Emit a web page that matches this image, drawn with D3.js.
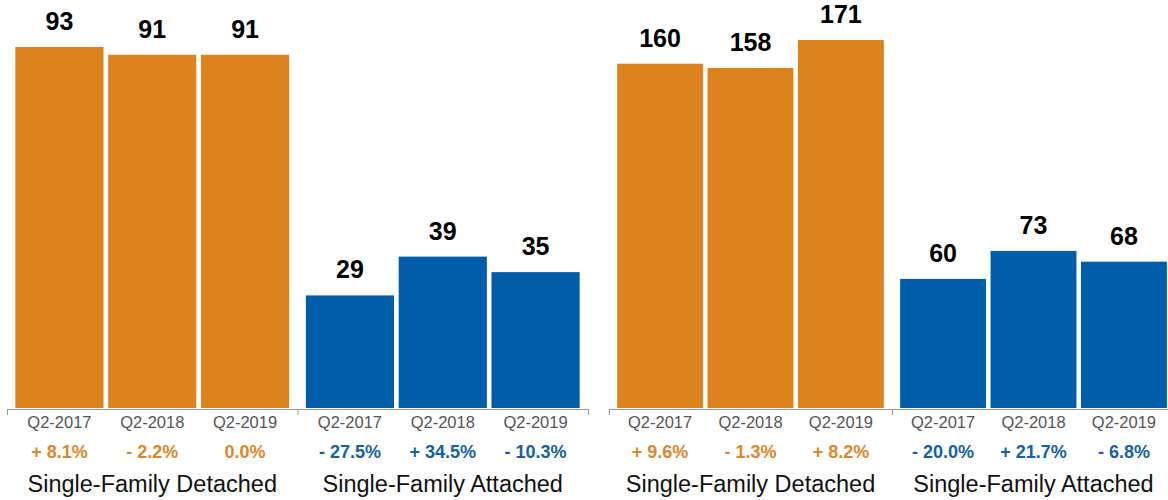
<!DOCTYPE html>
<html>
<head>
<meta charset="utf-8">
<script src="https://cdn.jsdelivr.net/npm/d3@7"></script>
<style>
  body { margin: 0; background: #fff; }
  svg { display: block; font-family: "Liberation Sans", Arial, Helvetica, sans-serif; }
</style>
</head>
<body>
<svg width="1168" height="500"></svg>
<script>
// data
const quarters = ['Q2-2017', 'Q2-2018', 'Q2-2019'];
const groups = ['Single-Family Detached', 'Single-Family Attached'];

const leftDetached = [93, 91, 91];
const leftAttached = [29, 39, 35];
const leftDetachedChange = ['+ 8.1%', '- 2.2%', '0.0%'];
const leftAttachedChange = ['- 27.5%', '+ 34.5%', '- 10.3%'];

const rightDetached = [160, 158, 171];
const rightAttached = [60, 73, 68];
const rightDetachedChange = ['+ 9.6%', '- 1.3%', '+ 8.2%'];
const rightAttachedChange = ['- 20.0%', '+ 21.7%', '- 6.8%'];

const colors = { 'Single-Family Detached': '#dc831e', 'Single-Family Attached': '#005eaa' };
const textColors = { 'Single-Family Detached': '#df8626', 'Single-Family Attached': '#1261aa' };

let svg = d3.select('svg');
let baseY = 408;

function drawPanel(x0, x1, yMax, detached, attached, detChange, attChange) {
    const g = svg.append('g');
    const values = [detached, attached];
    const changes = [detChange, attChange];

    const xGroup = d3.scaleBand().domain(groups).range([x0, x1]).padding(0);
    const xInner = d3.scaleBand().domain(quarters)
                    .range([0, xGroup.bandwidth()])
                    .paddingInner(0.05)
                    .paddingOuter(0.09);
    const yScale = d3.scaleLinear().domain([0, yMax]).range([baseY, 0]);

    groups.forEach((grp, gi) => {
        const gx = xGroup(grp);
        const rows = quarters.map((q, i) => ({ q: q, v: values[gi][i], c: changes[gi][i] }));

        g.selectAll('.bar' + gi)
            .data(rows)
            .enter()
            .append('rect')
            .attr('x', d => gx + xInner(d.q))
            .attr('y', d => yScale(d.v))
            .attr('width', xInner.bandwidth())
            .attr('height', d => baseY - yScale(d.v))
            .style('fill', colors[grp]);

        g.selectAll('.val' + gi)
            .data(rows)
            .enter()
            .append('text')
            .attr('x', d => gx + xInner(d.q) + xInner.bandwidth() / 2)
            .attr('y', d => yScale(d.v) - 17)
            .attr('text-anchor', 'middle')
            .style('font-size', '25px')
            .style('font-weight', 'bold')
            .style('fill', '#000')
            .text(d => d.v);

        g.selectAll('.tick' + gi)
            .data(rows)
            .enter()
            .append('text')
            .attr('x', d => gx + xInner(d.q) + xInner.bandwidth() / 2)
            .attr('y', 428)
            .attr('text-anchor', 'middle')
            .style('font-size', '16.5px')
            .style('fill', '#555')
            .text(d => d.q);

        g.selectAll('.chg' + gi)
            .data(rows)
            .enter()
            .append('text')
            .attr('x', d => gx + xInner(d.q) + xInner.bandwidth() / 2)
            .attr('y', 458)
            .attr('text-anchor', 'middle')
            .style('font-size', '18px')
            .style('font-weight', 'bold')
            .style('fill', textColors[grp])
            .text(d => d.c);

        g.append('text')
            .attr('x', gx + xGroup.bandwidth() / 2)
            .attr('y', 492)
            .attr('text-anchor', 'middle')
            .style('font-size', '23.5px')
            .style('fill', '#111')
            .text(grp);
    });

    // axis line with ticks at group edges
    const xAxis = d3.axisBottom(d3.scaleLinear().domain([0, 2]).range([x0, x1]))
                    .tickValues([0, 1, 2])
                    .tickFormat('')
                    .tickSizeInner(6)
                    .tickSizeOuter(0);
    const ax = g.append('g')
                .attr('transform', `translate(0,${baseY + 1})`)
                .call(xAxis);
    ax.selectAll('path, line').attr('stroke', '#999');
}

drawPanel(7, 588, 105.1, leftDetached, leftAttached, leftDetachedChange, leftAttachedChange);
drawPanel(609, 1175, 189.6, rightDetached, rightAttached, rightDetachedChange, rightAttachedChange);
</script>
</body>
</html>
